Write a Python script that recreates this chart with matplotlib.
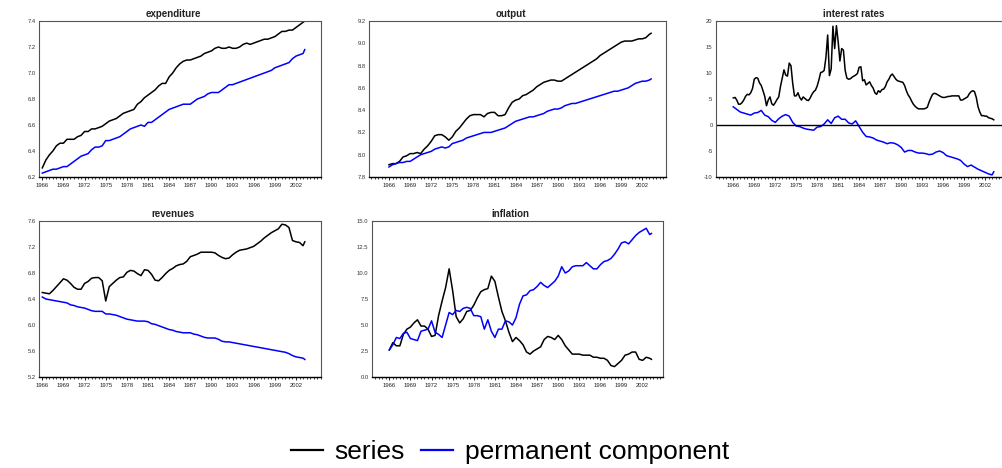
import numpy as np
import matplotlib
matplotlib.use("Agg")
import matplotlib.pyplot as plt
from matplotlib.lines import Line2D
from matplotlib.ticker import MultipleLocator, FormatStrFormatter

plt.rcParams['font.family'] = ['Liberation Sans', 'DejaVu Sans']

# ---------------- data (semiannual 1966.0 .. 2003.0, plus 2003.25) ----------------
dates_h = np.append(np.arange(1966.0, 2003.01, 0.5), 2003.25)
dates_q = 1966.0 + 0.25 * np.arange(150)

exp_series = [6.27, 6.33, 6.37, 6.40, 6.44, 6.46, 6.46, 6.49, 6.49, 6.49,
              6.51, 6.52, 6.55, 6.55, 6.57, 6.57, 6.58, 6.59, 6.61, 6.63,
              6.64, 6.65, 6.67, 6.69, 6.70, 6.71, 6.72, 6.76, 6.78, 6.81,
              6.83, 6.85, 6.87, 6.90, 6.92, 6.92, 6.97, 7.00, 7.04, 7.07,
              7.09, 7.10, 7.10, 7.11, 7.12, 7.13, 7.15, 7.16, 7.17, 7.19,
              7.20, 7.19, 7.19, 7.20, 7.19, 7.19, 7.20, 7.22, 7.23, 7.22,
              7.23, 7.24, 7.25, 7.26, 7.26, 7.27, 7.28, 7.30, 7.32, 7.32,
              7.33, 7.33, 7.35, 7.37, 7.39, 7.40]
exp_perm = [6.23, 6.24, 6.25, 6.26, 6.26, 6.27, 6.28, 6.28, 6.30, 6.32,
            6.34, 6.36, 6.37, 6.38, 6.41, 6.43, 6.43, 6.44, 6.48, 6.48,
            6.49, 6.50, 6.51, 6.53, 6.55, 6.57, 6.58, 6.59, 6.60, 6.59,
            6.62, 6.62, 6.64, 6.66, 6.68, 6.70, 6.72, 6.73, 6.74, 6.75,
            6.76, 6.76, 6.76, 6.78, 6.80, 6.81, 6.82, 6.84, 6.85, 6.85,
            6.85, 6.87, 6.89, 6.91, 6.91, 6.92, 6.93, 6.94, 6.95, 6.96,
            6.97, 6.98, 6.99, 7.00, 7.01, 7.02, 7.04, 7.05, 7.06, 7.07,
            7.08, 7.11, 7.13, 7.14, 7.15, 7.18]

out_series = [7.91, 7.92, 7.92, 7.94, 7.98, 7.99, 8.01, 8.01, 8.02, 8.01,
              8.05, 8.08, 8.12, 8.17, 8.18, 8.18, 8.16, 8.13, 8.16, 8.21,
              8.24, 8.28, 8.32, 8.35, 8.36, 8.36, 8.36, 8.34, 8.37, 8.38,
              8.38, 8.35, 8.35, 8.36, 8.42, 8.47, 8.49, 8.50, 8.53, 8.54,
              8.56, 8.58, 8.61, 8.63, 8.65, 8.66, 8.67, 8.67, 8.66, 8.66,
              8.68, 8.70, 8.72, 8.74, 8.76, 8.78, 8.80, 8.82, 8.84, 8.86,
              8.89, 8.91, 8.93, 8.95, 8.97, 8.99, 9.01, 9.02, 9.02, 9.02,
              9.03, 9.04, 9.04, 9.05, 9.08, 9.09]
out_perm = [7.89, 7.91, 7.92, 7.93, 7.93, 7.94, 7.94, 7.96, 7.98, 8.00,
            8.01, 8.02, 8.03, 8.05, 8.06, 8.07, 8.06, 8.07, 8.10, 8.11,
            8.12, 8.13, 8.15, 8.16, 8.17, 8.18, 8.19, 8.20, 8.20, 8.20,
            8.21, 8.22, 8.23, 8.24, 8.26, 8.28, 8.30, 8.31, 8.32, 8.33,
            8.34, 8.34, 8.35, 8.36, 8.37, 8.39, 8.40, 8.41, 8.41, 8.42,
            8.44, 8.45, 8.46, 8.46, 8.47, 8.48, 8.49, 8.50, 8.51, 8.52,
            8.53, 8.54, 8.55, 8.56, 8.57, 8.57, 8.58, 8.59, 8.60, 8.62,
            8.64, 8.65, 8.66, 8.66, 8.67, 8.68]

# interest rate series is quarterly
int_series = [5.2, 5.3, 4.8, 4.0,  4.0, 4.3, 4.8, 5.5,  5.9, 5.8, 6.2, 7.0,
              8.8, 9.1, 9.0, 8.1,  7.6, 6.6, 5.5, 3.7,  4.8, 5.4, 4.1, 3.8,
              4.3, 4.9, 5.4, 7.4,  9.0, 10.6, 9.6, 9.4,  11.9, 11.4, 8.0, 5.6,
              5.6, 6.2, 5.3, 4.8,  5.4, 5.1, 4.8, 4.7,  5.2, 5.9, 6.4, 6.7,
              7.5, 8.7, 10.1, 10.2,  10.5, 13.0, 17.3, 9.5,  10.8, 19.0, 14.7, 19.1,
              16.0, 12.3, 14.7, 14.4,  10.5, 9.0, 8.8, 8.9,  9.2, 9.4, 9.6, 9.9,
              11.1, 11.2, 8.5, 8.7,  7.7, 8.0, 8.3, 7.6,  7.1, 6.2, 5.9, 6.6,
              6.3, 6.8, 6.9, 7.4,  8.3, 8.8, 9.5, 9.8,  9.3, 8.8, 8.5, 8.4,
              8.3, 8.2, 7.6, 6.6,  5.8, 5.3, 4.6, 4.0,  3.6, 3.3, 3.1, 3.1,
              3.1, 3.1, 3.2, 3.4,  4.4, 5.2, 5.9, 6.1,  6.0, 5.8, 5.6, 5.4,
              5.3, 5.3, 5.4, 5.5,  5.5, 5.6, 5.6, 5.6,  5.6, 5.6, 4.8, 4.8,
              5.0, 5.2, 5.4, 6.0,  6.4, 6.6, 6.4, 5.3,  3.5, 2.5, 1.8, 1.8,
              1.7, 1.7, 1.4, 1.3,  1.2, 1.0]
int_perm = [3.5, 3.0, 2.5, 2.3, 2.1, 1.9, 2.3, 2.4, 2.8, 1.9,
            1.6, 0.9, 0.5, 1.2, 1.7, 2.0, 1.7, 0.5, -0.2, -0.3,
            -0.6, -0.8, -0.9, -1.0, -0.4, -0.3, 0.2, 1.0, 0.3, 1.4,
            1.7, 1.1, 1.1, 0.4, 0.2, 0.8, -0.3, -1.4, -2.2, -2.3,
            -2.5, -2.9, -3.1, -3.3, -3.6, -3.4, -3.5, -3.8, -4.3, -5.2,
            -4.9, -4.9, -5.2, -5.4, -5.4, -5.5, -5.7, -5.6, -5.2, -5.0,
            -5.3, -5.9, -6.1, -6.3, -6.5, -6.8, -7.5, -8.0, -7.7, -8.1,
            -8.5, -8.8, -9.1, -9.4, -9.6, -9.0]

rev_series = [6.50, 6.49, 6.48, 6.53, 6.59, 6.65, 6.71, 6.69, 6.64, 6.58,
              6.55, 6.55, 6.64, 6.67, 6.72, 6.73, 6.73, 6.68, 6.37, 6.59,
              6.64, 6.69, 6.73, 6.74, 6.81, 6.84, 6.83, 6.79, 6.76, 6.85,
              6.84, 6.78, 6.69, 6.68, 6.73, 6.79, 6.84, 6.87, 6.91, 6.93,
              6.94, 6.98, 7.05, 7.07, 7.09, 7.12, 7.12, 7.12, 7.12, 7.11,
              7.07, 7.04, 7.02, 7.03, 7.08, 7.12, 7.15, 7.16, 7.17, 7.19,
              7.21, 7.25, 7.29, 7.34, 7.38, 7.42, 7.45, 7.48, 7.55, 7.54,
              7.50, 7.30, 7.28, 7.27, 7.22, 7.28]
rev_perm = [6.43, 6.40, 6.39, 6.38, 6.37, 6.36, 6.35, 6.34, 6.31, 6.30,
            6.28, 6.27, 6.26, 6.24, 6.22, 6.21, 6.21, 6.21, 6.17, 6.17,
            6.16, 6.15, 6.13, 6.11, 6.09, 6.08, 6.07, 6.06, 6.06, 6.06,
            6.05, 6.02, 6.01, 5.99, 5.97, 5.95, 5.93, 5.92, 5.90, 5.89,
            5.88, 5.88, 5.88, 5.86, 5.85, 5.83, 5.81, 5.80, 5.80, 5.80,
            5.78, 5.75, 5.74, 5.74, 5.73, 5.72, 5.71, 5.70, 5.69, 5.68,
            5.67, 5.66, 5.65, 5.64, 5.63, 5.62, 5.61, 5.60, 5.59, 5.58,
            5.56, 5.53, 5.51, 5.50, 5.49, 5.47]

inf_series = [2.6, 3.3, 3.0, 3.0, 4.1, 4.6, 4.8, 5.2, 5.5, 4.9,
              4.9, 4.6, 3.9, 4.0, 5.9, 7.3, 8.6, 10.4, 8.3, 5.8,
              5.2, 5.6, 6.3, 6.4, 6.9, 7.6, 8.2, 8.4, 8.5, 9.7,
              9.2, 7.7, 6.3, 5.4, 4.3, 3.4, 3.8, 3.5, 3.1, 2.4,
              2.2, 2.5, 2.7, 2.9, 3.6, 3.9, 3.8, 3.6, 4.0, 3.6,
              3.0, 2.6, 2.2, 2.2, 2.2, 2.1, 2.1, 2.1, 1.9, 1.9,
              1.8, 1.8, 1.6, 1.1, 1.0, 1.3, 1.6, 2.1, 2.2, 2.4,
              2.4, 1.7, 1.6, 1.9, 1.8, 1.7]
inf_perm = [2.6, 3.1, 3.8, 3.7, 4.2, 4.3, 3.7, 3.6, 3.5, 4.4,
            4.5, 4.6, 5.4, 4.3, 4.1, 3.8, 5.0, 6.2, 6.0, 6.4,
            6.3, 6.6, 6.7, 6.6, 5.9, 5.9, 5.8, 4.6, 5.5, 4.4,
            3.8, 4.6, 4.6, 5.4, 5.3, 5.0, 5.7, 7.0, 7.8, 7.9,
            8.3, 8.4, 8.7, 9.1, 8.8, 8.6, 8.9, 9.2, 9.7, 10.6,
            10.0, 10.2, 10.6, 10.7, 10.7, 10.7, 11.0, 10.7, 10.4, 10.4,
            10.8, 11.1, 11.2, 11.4, 11.8, 12.3, 12.9, 13.0, 12.8, 13.2,
            13.6, 13.9, 14.1, 14.3, 13.7, 13.8]

titles = ["expenditure", "output", "interest rates", "revenues", "inflation"]
year_labels = list(range(1966, 2003, 3))
legend_labels = ["series", "permanent component"]

# ---------------- layout ----------------
W, H = 1002, 468
fig = plt.figure(figsize=(W / 100, H / 100), dpi=100)

def px_axes(l, r, t, b):
    return fig.add_axes([l / W, 1 - b / H, (r - l) / W, (b - t) / H])

panels = [
    # (pixel box, xlim, ylim, ytick step, fmt, series x, series y, perm x, perm y)
    ((39, 321, 21, 177), (1965.53, 2005.55), (6.2, 7.4), 0.2, '%.1f',
     dates_h, exp_series, dates_h, exp_perm),
    ((369, 666, 21, 177), (1963.16, 2005.37), (7.8, 9.2), 0.2, '%.1f',
     dates_h, out_series, dates_h, out_perm),
    ((716, 1006, 21, 177), (1963.53, 2005.0), (-10, 20), 5, '%d',
     dates_q, int_series, dates_h, int_perm),
    ((39, 321, 221, 377), (1965.53, 2005.55), (5.2, 7.6), 0.4, '%.1f',
     dates_h, rev_series, dates_h, rev_perm),
    ((372, 663, 221, 377), (1963.54, 2004.89), (0.0, 15.0), 2.5, '%.1f',
     dates_h, inf_series, dates_h, inf_perm),
]

for i, (box, xl, yl, ystep, fmt, xs, ys, xp, yp) in enumerate(panels):
    ax = px_axes(*box)
    ax.plot(xs, ys, color='black', lw=1.1)
    ax.plot(xp, yp, color='#0000FF', lw=1.1)
    if i == 2:
        ax.axhline(0, color='black', lw=1.0)
    ax.set_xlim(*xl)
    ax.set_ylim(*yl)
    width_px = box[1] - box[0]
    ax.set_title(titles[i], fontsize=7, fontweight='bold', pad=3,
                 x=0.5 - 7.0 / width_px, color='#222222')
    ax.set_xticks(year_labels)
    ax.set_xticklabels([str(y) for y in year_labels])
    ax.xaxis.set_minor_locator(MultipleLocator(0.5))
    ax.yaxis.set_major_locator(MultipleLocator(ystep))
    ax.yaxis.set_major_formatter(FormatStrFormatter(fmt))
    ax.tick_params(axis='x', which='major', labelsize=4.2, length=2.5,
                   width=0.7, pad=1.5, direction='out', colors='#222222')
    ax.tick_params(axis='x', which='minor', length=1.5, width=0.6,
                   direction='out', color='#222222')
    ax.tick_params(axis='y', which='major', labelsize=4.2, length=0,
                   pad=2.5, colors='#333333')
    for s in ['top', 'right', 'left']:
        ax.spines[s].set_color('#555555')
        ax.spines[s].set_linewidth(0.8)
    ax.spines['bottom'].set_color('black')
    ax.spines['bottom'].set_linewidth(1.0)

handles = [Line2D([], [], color='black', lw=1.6),
           Line2D([], [], color='#0000FF', lw=1.6)]
fig.legend(handles, legend_labels, loc='center', ncol=2,
           bbox_to_anchor=(510 / W, 1 - 452 / H), frameon=False,
           fontsize=19, handlelength=1.2, handletextpad=0.45,
           columnspacing=0.6, borderpad=0.1)

fig.savefig("out.png", dpi=100)
